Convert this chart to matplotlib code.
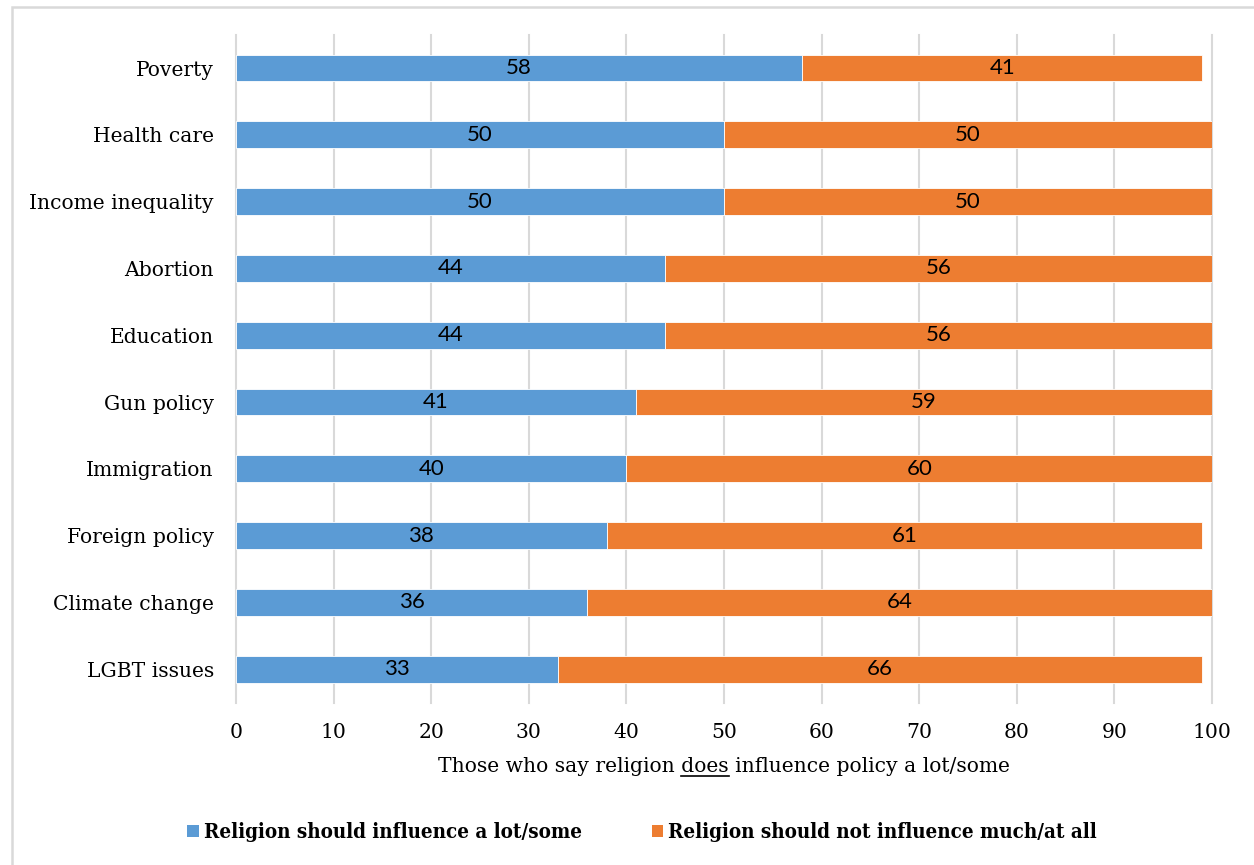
import matplotlib.pyplot as plt
import matplotlib.patches as patches
import numpy as np

topics = ["Poverty", "Health care", "Income inequality", "Abortion", "Education",
          "Gun policy", "Immigration", "Foreign policy", "Climate change", "LGBT issues"]
should = [58, 50, 50, 44, 44, 41, 40, 38, 36, 33]
should_not = [41, 50, 50, 56, 56, 59, 60, 61, 64, 66]

blue = "#5b9bd5"
orange = "#ed7d31"
grid = "#d9d9d9"
serif = "DejaVu Serif"
fs = 14.6

fig = plt.figure(figsize=(12.54, 8.65), dpi=100)
ax = fig.add_axes([0.1882, 0.1877, 0.7783, 0.7723])

y = np.arange(len(topics))
b1 = ax.barh(y, should, height=0.4, color=blue, edgecolor="white", linewidth=0.6,
             label="Religion should influence a lot/some", zorder=3)
b2 = ax.barh(y, should_not, left=should, height=0.4, color=orange, edgecolor="white",
             linewidth=0.6, label="Religion should not influence much/at all", zorder=3)

for i in range(len(topics)):
    ax.text(should[i] / 2, y[i], str(should[i]), ha="center", va="center",
            fontsize=16, family="Lato", color="black", zorder=4)
    ax.text(should[i] + should_not[i] / 2, y[i], str(should_not[i]), ha="center",
            va="center", fontsize=16, family="Lato", color="black", zorder=4)

ax.set_xlim(0, 100)
ax.set_ylim(len(topics) - 0.5, -0.5)
ax.set_xticks(np.arange(0, 101, 10))
ax.set_yticks(y)
ax.set_yticklabels(topics, family=serif, fontsize=fs)
for lab in ax.get_xticklabels():
    lab.set_family(serif)
    lab.set_fontsize(fs)
ax.tick_params(axis="both", length=0)
ax.tick_params(axis="x", pad=15)
ax.tick_params(axis="y", pad=16)
ax.xaxis.grid(True, color=grid, linewidth=1.5, zorder=0)
for gl in ax.get_xgridlines():
    gl.set_clip_on(False)
for s in ax.spines.values():
    s.set_visible(False)

# x label with "does" underlined
prefix = "Those who say religion "
word = "does"
suffix = " influence policy a lot/some"
xc = (0.1882 + 0.1882 + 0.7783) / 2
lbl = fig.text(xc, 1 - 767 / 865, prefix + word + suffix, ha="center", va="center",
               family=serif, fontsize=fs)
fig.canvas.draw()
r = fig.canvas.get_renderer()
full = lbl.get_window_extent(r)
tmp_a = fig.text(0, 0, prefix, family=serif, fontsize=fs)
tmp_b = fig.text(0, 0, prefix + word, family=serif, fontsize=fs)
w_sp = tmp_a.get_window_extent(r).width
w_word = tmp_b.get_window_extent(r).width
tmp_a.remove()
tmp_b.remove()
x0 = (full.x0 + w_sp) / fig.bbox.width
x1 = (full.x0 + w_word) / fig.bbox.width
yu = (full.y0 + 1) / fig.bbox.height
fig.add_artist(plt.Line2D([x0, x1], [yu, yu], color="black", linewidth=1.2))

leg = fig.legend(handles=[b1, b2], loc="center", bbox_to_anchor=(0.512, 1 - 832 / 865),
                 ncol=2, frameon=False, handlelength=0.55, handleheight=0.55,
                 handletextpad=0.25, columnspacing=3.4,
                 prop={"family": serif, "size": 14.8, "weight": "bold", "stretch": "condensed"})
for h in leg.legend_handles:
    h.set_edgecolor("none")

# outer chart border
fig.add_artist(patches.Rectangle((11.5 / 1254, -0.05), 1.1, 1 - 6.5 / 865 + 0.05,
                                 transform=fig.transFigure, fill=False,
                                 edgecolor=grid, linewidth=1.8))

fig.savefig("out.png", dpi=100)
